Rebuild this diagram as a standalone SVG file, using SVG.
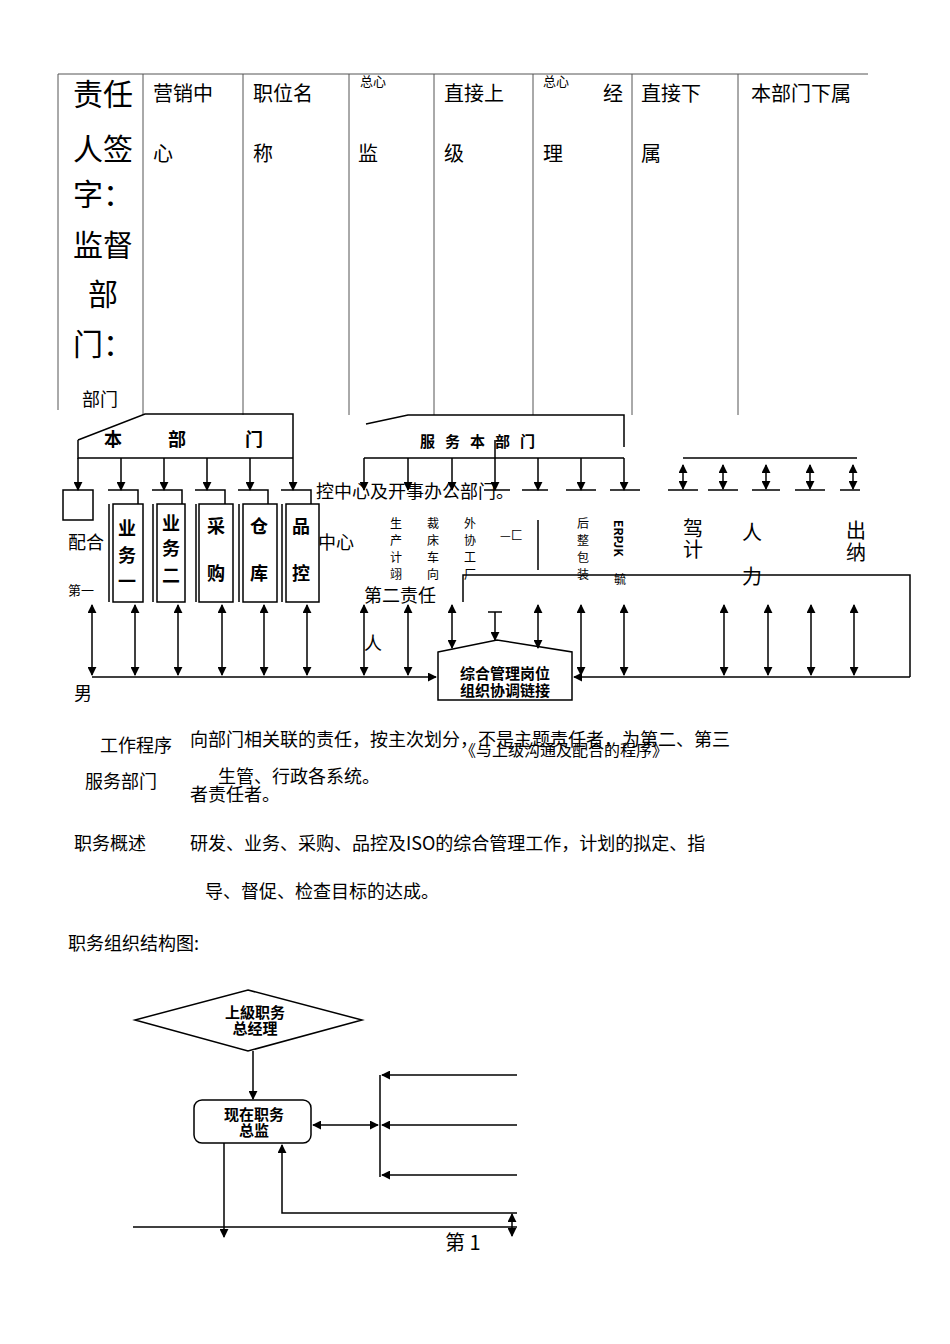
<svg xmlns="http://www.w3.org/2000/svg" width="950" height="1344" viewBox="0 0 950 1344">
<defs>
<marker id="a" viewBox="0 0 10 10" refX="9" refY="5" markerWidth="6" markerHeight="6" orient="auto-start-reverse"><path d="M0,0L10,5L0,10z" fill="#000"/></marker>
<style>
.l{stroke:#000;stroke-width:1.5;fill:none}
.t{stroke:#555;stroke-width:1;fill:none}
.ar{stroke:#000;stroke-width:1.5;fill:none;marker-end:url(#a)}
.da{stroke:#000;stroke-width:1.5;fill:none;marker-end:url(#a);marker-start:url(#a)}
text{font-family:"Noto Sans CJK SC","Liberation Serif",serif;fill:#000}
.s{font-size:20px}
.b{font-weight:bold;font-family:"Noto Sans CJK SC",sans-serif}
</style>
</defs>
<rect width="950" height="1344" fill="#fff"/>
<g id="table">
<line class="t" x1="58" y1="74" x2="868" y2="74"/>
<path class="t" d="M58,74V410M143,74V415M243,74V415M349,74V415M434,74V415M533,74V415M632,74V415M738,74V415"/>
<text x="73" y="105" font-size="30">责任</text>
<text x="73" y="160" font-size="30">人签</text>
<text x="73" y="205" font-size="30">字：</text>
<text x="73" y="256" font-size="30">监督</text>
<text x="88" y="305" font-size="30">部</text>
<text x="73" y="355" font-size="30">门：</text>
<text x="82" y="406" font-size="18">部门</text>
<text x="153" y="101" class="s">营销中</text><text x="153" y="161" class="s">心</text>
<text x="253" y="101" class="s">职位名</text><text x="253" y="161" class="s">称</text>
<text x="360" y="86" font-size="13">总心</text><text x="358" y="161" class="s">监</text>
<text x="444" y="101" class="s">直接上</text><text x="444" y="161" class="s">级</text>
<text x="543" y="86" font-size="13">总心</text><text x="603" y="101" class="s">经</text><text x="543" y="161" class="s">理</text>
<text x="641" y="101" class="s">直接下</text><text x="641" y="161" class="s">属</text>
<text x="751" y="101" class="s">本部门下属</text>
</g>
<g id="connectors">
<path class="l" d="M78,440L145,414H293V458M78,440V458H293"/>
<line class="ar" x1="78" y1="458" x2="78" y2="490"/><line class="ar" x1="121" y1="458" x2="121" y2="490"/><line class="ar" x1="164" y1="458" x2="164" y2="490"/><line class="ar" x1="207" y1="458" x2="207" y2="490"/><line class="ar" x1="250" y1="458" x2="250" y2="490"/><line class="ar" x1="293" y1="458" x2="293" y2="490"/>
<path class="l" d="M366,424L408,415H624V447M364,458H624"/>
<line class="ar" x1="364" y1="458" x2="364" y2="490"/><line class="ar" x1="408" y1="458" x2="408" y2="490"/><line class="ar" x1="452" y1="458" x2="452" y2="490"/><line class="ar" x1="495" y1="440" x2="495" y2="490"/><line class="ar" x1="538" y1="458" x2="538" y2="490"/><line class="ar" x1="581" y1="458" x2="581" y2="490"/><line class="ar" x1="624" y1="458" x2="624" y2="490"/>
<path class="l" d="M484,490H510M522,490H548M566,490H596M610,490H640"/>
<path class="l" d="M683,458H857"/>
<line class="da" x1="683" y1="465" x2="683" y2="489"/><line class="da" x1="723" y1="465" x2="723" y2="489"/><line class="da" x1="766" y1="465" x2="766" y2="489"/><line class="da" x1="810" y1="465" x2="810" y2="489"/><line class="da" x1="853" y1="465" x2="853" y2="489"/>
<path class="l" d="M668,490H698M708,490H738M752,490H780M795,490H825M840,490H860"/>
<line class="da" x1="92" y1="605" x2="92" y2="675"/><line class="da" x1="135" y1="605" x2="135" y2="675"/><line class="da" x1="178" y1="605" x2="178" y2="675"/><line class="da" x1="222" y1="605" x2="222" y2="675"/><line class="da" x1="264" y1="605" x2="264" y2="675"/><line class="da" x1="307" y1="605" x2="307" y2="675"/><line class="da" x1="364" y1="605" x2="364" y2="675"/><line class="da" x1="408" y1="605" x2="408" y2="675"/>
<line class="da" x1="452" y1="605" x2="452" y2="648"/><line class="da" x1="538" y1="605" x2="538" y2="648"/>
<line class="da" x1="581" y1="605" x2="581" y2="675"/><line class="da" x1="624" y1="605" x2="624" y2="675"/><line class="da" x1="724" y1="605" x2="724" y2="675"/><line class="da" x1="768" y1="605" x2="768" y2="675"/><line class="da" x1="811" y1="605" x2="811" y2="675"/><line class="da" x1="854" y1="605" x2="854" y2="675"/>
<line class="ar" x1="495" y1="612" x2="495" y2="640"/>
<path class="l" d="M488,612H502"/>
<line class="ar" x1="92" y1="677" x2="436" y2="677"/>
<line class="ar" x1="910" y1="677" x2="574" y2="677"/>
<path class="l" d="M910,677V575H463V602"/>
<path class="l" d="M538,520V570"/>
<line class="ar" x1="253" y1="1051" x2="253" y2="1099"/>
<line class="da" x1="313" y1="1125" x2="378" y2="1125"/>
<path class="l" d="M380,1075V1177"/>
<line class="ar" x1="517" y1="1075" x2="382" y2="1075"/><line class="ar" x1="517" y1="1125" x2="382" y2="1125"/><line class="ar" x1="517" y1="1175" x2="382" y2="1175"/>
<path class="ar" d="M517,1213H282V1145"/>
<path class="l" d="M133,1227H517"/>
<line class="ar" x1="224" y1="1143" x2="224" y2="1237"/>
<line class="da" x1="512" y1="1214" x2="512" y2="1236"/>
</g>
<g id="n-benbumen"><text x="104" y="446" font-size="18" class="b">本</text><text x="168" y="446" font-size="18" class="b">部</text><text x="245" y="446" font-size="18" class="b">门</text></g>
<g id="n-fuwu"><text x="420" y="447" font-size="15" class="b" letter-spacing="10">服务本部门</text></g>
<g id="n-boxes">
<path class="l" d="M63,490h30v30h-30z M108,490h30v14M152,490h30v14M195,490h30v14M238,490h30v14M281,490h30v14"/>
<path class="l" d="M113,504h30v98h-30zM157,504h28v98h-28zM199,504h34v98h-34zM243,504h34v98h-34zM286,504h33v98h-33z"/>
<path class="l" d="M109,504V602M153,504V602M196,504V602M239,504V602M282,504V602"/>
<text x="118" y="535" class="b" font-size="18">业</text><text x="118" y="562" class="b" font-size="18">务</text><text x="118" y="588" class="b" font-size="18">一</text>
<text x="162" y="530" class="b" font-size="18">业</text><text x="162" y="555" class="b" font-size="18">务</text><text x="162" y="582" class="b" font-size="18">二</text>
<text x="207" y="533" class="b" font-size="18">采</text><text x="207" y="580" class="b" font-size="18">购</text>
<text x="250" y="533" class="b" font-size="18">仓</text><text x="250" y="580" class="b" font-size="18">库</text>
<text x="292" y="533" class="b" font-size="18">品</text><text x="292" y="580" class="b" font-size="18">控</text>
</g>
<g id="n-center">
<path class="l" d="M438,652L497,640L572,652V700H438Z"/>
<text x="505" y="679" text-anchor="middle" font-size="15" class="b">综合管理岗位</text>
<text x="505" y="696" text-anchor="middle" font-size="15" class="b">组织协调链接</text>
</g>
<g id="labels" font-size="12">
<text x="390" y="528">生</text><text x="390" y="545">产</text><text x="390" y="562">计</text><text x="390" y="579">翊</text>
<text x="427" y="528">裁</text><text x="427" y="545">床</text><text x="427" y="562">车</text><text x="427" y="579">向</text>
<text x="464" y="528">外</text><text x="464" y="545">协</text><text x="464" y="562">工</text><text x="464" y="579">厂</text>
<text x="500" y="540">—匚</text>
<text x="577" y="528">后</text><text x="577" y="545">整</text><text x="577" y="562">包</text><text x="577" y="579">装</text>
<text x="614" y="520" class="b" transform="rotate(90 614 520)">ERPJK</text><text x="614" y="584">毓</text>
<text x="683" y="536" font-size="20">驾</text><text x="683" y="557" font-size="20">计</text>
<text x="742" y="540" font-size="20">人</text><text x="742" y="584" font-size="20">力</text>
<text x="846" y="538" font-size="20">出</text><text x="846" y="560" font-size="20">纳</text>
</g>
<g id="text" font-size="18">
<text x="316" y="498">控中心及开事办公部门。</text>
<text x="68" y="549">配合</text>
<text x="318" y="549">中心</text>
<text x="68" y="595" font-size="13">第一</text>
<text x="364" y="602">第二责任</text>
<text x="364" y="650">人</text>
<text x="74" y="700">男</text>
<text x="100" y="752">工作程序</text>
<text x="190" y="746">向部门相关联的责任，按主次划分，不是主题责任者，为第二、第三</text>
<text x="460" y="756" font-size="16" fill="#444">《与上级沟通及配合的程序》</text>
<text x="85" y="788">服务部门</text>
<text x="218" y="783">生管、行政各系统。</text>
<text x="190" y="801">者责任者。</text>
<text x="74" y="850">职务概述</text>
<text x="190" y="850">研发、业务、采购、品控及ISO的综合管理工作，计划的拟定、指</text>
<text x="205" y="898">导、督促、检查目标的达成。</text>
<text x="68" y="950">职务组织结构图:</text>
<text x="445" y="1250" font-size="20">第 1</text>
</g>
<g id="n-diamond">
<path class="l" d="M248,990L362,1020L248,1051L135,1020Z"/>
<text x="255" y="1018" text-anchor="middle" font-size="15" class="b">上級职务</text>
<text x="255" y="1034" text-anchor="middle" font-size="15" class="b">总经理</text>
</g>
<g id="n-director">
<rect class="l" x="194" y="1100" width="117" height="43" rx="8"/>
<text x="254" y="1120" text-anchor="middle" font-size="15" class="b">现在职务</text>
<text x="254" y="1136" text-anchor="middle" font-size="15" class="b">总监</text>
</g>
</svg>
